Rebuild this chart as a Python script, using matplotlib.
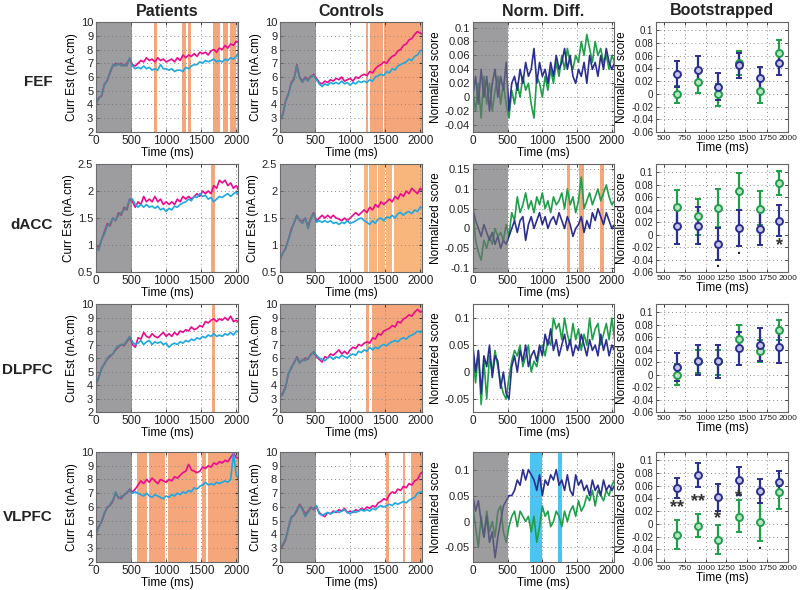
import numpy as np
import matplotlib
matplotlib.use('Agg')
import matplotlib.pyplot as plt
from matplotlib.ticker import FuncFormatter

plt.rcParams['font.family'] = ['Liberation Sans', 'DejaVu Sans']

# ---------------- data ----------------
TIME_MS = list(range(0, 2041, 40))
REGIONS = ['FEF', 'dACC', 'DLPFC', 'VLPFC']
COLUMN_TITLES = ['Patients', 'Controls', 'Norm. Diff.', 'Bootstrapped']

# Patients / Controls current estimates (magenta = A, cyan = B)
P_FEF_A = [4.1,4.5,4.6,5.5,5.7,6.3,6.8,7.0,6.9,7.0,6.8,7.0,7.3,6.9,6.8,7.0,7.2,7.1,7.4,7.2,7.3,7.1,7.4,7.2,7.3,7.1,7.2,7.3,7.1,7.4,7.2,7.6,7.4,7.6,7.5,7.7,7.5,7.8,7.7,7.8,7.6,7.9,8.0,7.8,8.1,8.0,8.3,8.1,8.4,8.3,8.6,8.5]
P_FEF_B = [4.0,4.4,4.7,5.4,5.8,6.4,6.9,6.8,7.0,6.8,6.9,6.8,7.4,6.8,6.6,6.7,6.6,6.8,6.6,6.7,6.5,6.6,6.5,6.9,6.6,6.6,6.5,6.6,6.4,6.5,6.5,6.4,6.7,6.6,6.8,6.9,6.9,7.1,7.0,7.2,7.1,7.2,7.3,7.1,7.2,7.1,7.3,7.2,7.4,7.3,7.5,7.8]
C_FEF_A = [2.9,3.3,4.3,4.8,5.6,5.9,6.9,6.0,5.7,6.0,5.8,6.0,6.2,5.9,5.6,5.5,5.7,5.6,5.8,5.7,5.9,5.8,6.0,5.7,5.8,5.9,5.7,6.0,5.9,6.1,6.2,6.1,6.4,6.3,6.6,6.8,6.9,7.1,7.0,7.3,7.5,7.6,7.9,8.0,8.3,8.4,8.7,8.8,9.1,9.3,9.2,9.1]
C_FEF_B = [2.9,3.2,4.2,4.7,5.5,5.8,6.8,5.9,5.6,5.9,5.7,6.1,6.1,5.8,5.5,5.3,5.5,5.4,5.6,5.5,5.6,5.5,5.7,5.5,5.6,5.4,5.6,5.5,5.7,5.6,5.7,5.6,5.8,5.7,6.0,6.1,6.2,6.1,6.4,6.3,6.6,6.5,6.8,6.9,7.0,7.1,7.3,7.2,7.5,7.6,7.9,8.0]

P_DACC_A = [1.0,0.95,1.1,1.25,1.4,1.35,1.5,1.45,1.6,1.55,1.7,1.65,1.85,1.8,1.7,1.8,1.75,1.9,1.8,1.85,1.8,1.9,1.8,1.85,1.75,1.8,1.75,1.8,1.75,1.85,1.8,1.9,1.85,1.9,1.85,1.9,1.95,1.9,2.0,1.95,2.0,1.95,2.1,2.05,2.2,2.15,2.2,2.1,2.15,2.05,2.1,2.0]
P_DACC_B = [0.95,0.9,1.1,1.2,1.35,1.4,1.5,1.45,1.55,1.6,1.65,1.7,1.85,1.85,1.75,1.7,1.75,1.7,1.75,1.7,1.72,1.68,1.72,1.65,1.68,1.62,1.68,1.65,1.72,1.7,1.75,1.78,1.8,1.85,1.82,1.9,1.88,1.95,1.9,1.92,1.85,1.88,1.8,1.85,1.9,1.88,1.92,1.95,1.9,1.95,1.98,1.92]
C_DACC_A = [0.75,0.85,0.95,1.1,1.3,1.4,1.55,1.45,1.45,1.5,1.35,1.5,1.6,1.45,1.5,1.55,1.5,1.55,1.5,1.55,1.5,1.48,1.45,1.5,1.45,1.5,1.55,1.6,1.55,1.6,1.65,1.6,1.7,1.65,1.75,1.7,1.8,1.75,1.8,1.85,1.8,1.9,1.85,1.95,1.9,2.0,1.95,2.05,2.0,1.95,2.05,2.0]
C_DACC_B = [0.72,0.85,0.92,1.1,1.25,1.42,1.55,1.45,1.4,1.5,1.3,1.48,1.58,1.42,1.45,1.42,1.45,1.42,1.45,1.4,1.42,1.38,1.42,1.4,1.45,1.4,1.42,1.45,1.48,1.5,1.45,1.42,1.38,1.45,1.4,1.48,1.5,1.45,1.52,1.5,1.55,1.5,1.58,1.6,1.55,1.6,1.62,1.58,1.65,1.62,1.7,1.68]

P_DLPFC_A = [4.1,4.6,5.2,5.6,5.9,6.1,6.3,6.6,6.8,7.0,6.9,7.2,7.5,7.0,6.8,7.5,7.4,7.9,7.6,7.5,7.8,7.6,7.5,7.7,7.9,7.6,7.8,7.6,7.9,7.7,8.0,7.9,8.1,8.0,8.3,8.1,8.2,8.4,8.3,8.7,8.6,8.8,8.9,8.7,8.9,8.8,9.0,8.8,9.1,8.7,8.8,8.6]
P_DLPFC_B = [4.0,4.5,5.3,5.5,6.0,6.2,6.3,6.7,6.9,7.0,7.0,7.3,7.6,7.2,7.0,7.1,7.3,7.0,7.2,7.3,7.0,7.2,7.1,7.2,7.0,7.1,6.8,7.0,7.1,7.0,7.2,7.1,7.3,7.2,7.4,7.3,7.5,7.4,7.6,7.5,7.7,7.6,7.8,7.6,7.7,7.6,7.8,7.7,7.9,7.7,8.0,7.9]
C_DLPFC_A = [3.2,3.4,3.9,4.8,5.3,5.6,6.1,5.7,5.8,6.0,5.9,6.3,6.4,6.1,5.9,5.7,6.1,6.0,6.3,6.2,6.4,6.6,6.3,6.5,6.3,6.6,6.8,6.7,7.0,6.9,7.1,7.2,7.1,7.5,7.4,7.8,7.7,8.0,8.1,8.2,8.4,8.3,8.7,8.6,8.9,9.0,9.2,9.1,9.4,9.6,9.4,9.5]
C_DLPFC_B = [3.1,3.3,3.8,4.9,5.2,5.7,6.0,5.6,5.9,5.8,6.0,6.2,6.5,6.2,6.0,5.9,5.8,6.0,6.1,5.9,6.1,6.0,6.2,6.1,6.0,6.2,6.3,6.2,6.5,6.4,6.6,6.5,6.8,6.6,6.8,6.7,6.9,7.0,6.9,7.1,7.2,7.3,7.2,7.4,7.5,7.4,7.6,7.7,7.8,8.0,7.9,8.0]

P_VLPFC_A = [4.2,4.6,4.9,5.5,6.0,6.1,6.4,7.0,6.7,6.6,6.9,7.0,7.3,7.1,7.3,7.6,7.9,7.7,8.0,7.8,8.1,7.9,7.7,8.0,7.9,7.8,8.0,7.9,8.2,8.1,8.3,8.5,8.6,9.1,8.7,8.6,8.5,8.6,8.9,8.8,9.0,8.9,9.2,9.1,9.3,9.2,9.4,9.3,9.6,9.9,9.6,9.5]
P_VLPFC_B = [4.0,4.5,5.0,5.6,5.9,6.2,6.5,7.1,6.6,6.8,6.8,7.1,7.2,7.0,7.1,7.0,6.9,6.8,7.0,6.8,6.7,6.9,6.8,6.7,6.6,6.8,6.7,6.9,6.8,7.0,6.9,7.1,7.0,7.2,7.1,7.4,7.3,7.5,7.6,7.8,7.6,7.7,7.6,7.8,7.7,7.8,7.9,7.8,8.0,9.9,8.3,8.0]
C_VLPFC_A = [2.9,3.2,3.6,4.5,5.2,5.4,5.7,6.2,5.9,5.5,5.7,6.0,5.8,6.0,5.6,5.4,5.3,5.6,5.5,5.7,5.6,5.8,5.7,5.9,5.6,5.7,5.6,5.8,5.7,5.9,5.8,6.0,5.9,6.1,6.0,6.3,6.4,6.6,6.5,6.9,7.1,7.0,7.3,7.2,7.5,7.4,7.7,7.6,7.9,8.0,8.4,8.6]
C_VLPFC_B = [3.0,3.3,3.7,4.4,5.3,5.4,5.8,6.1,5.8,5.3,5.6,5.9,5.9,6.1,5.5,5.4,5.5,5.6,5.5,5.6,5.7,5.6,5.7,5.8,5.6,5.5,5.7,5.6,5.7,5.8,5.7,5.8,5.7,5.9,5.8,6.0,6.1,6.0,6.1,6.2,6.1,6.3,6.2,6.3,6.4,6.3,6.5,6.6,6.7,7.0,7.1,7.1]

# Normalized differences (green / navy)
ND_FEF_G = [0.01,-0.02,0.02,-0.03,0.03,-0.01,0.02,-0.02,0.01,0.03,-0.01,0.02,-0.01,-0.03,0.01,-0.01,0.02,0.0,0.03,0.01,0.02,-0.01,-0.03,0.03,0.02,0.0,0.03,0.01,0.04,0.02,0.05,0.03,0.06,0.04,0.07,0.05,0.04,0.06,0.05,0.08,0.06,0.09,0.07,0.05,0.08,0.06,0.07,0.05,0.06,0.04,0.06,0.05]
ND_FEF_N = [0.0,0.03,-0.01,0.04,0.0,0.03,-0.02,0.02,0.04,0.0,0.03,0.01,0.05,-0.02,0.02,0.03,0.01,0.04,0.02,0.05,0.03,0.04,0.07,0.02,0.05,0.03,0.04,0.02,0.05,0.03,0.06,0.04,0.05,0.07,0.04,0.06,0.03,0.02,0.04,0.03,0.05,0.02,0.06,0.04,0.05,0.03,0.06,0.04,0.07,0.05,0.04,0.05]
ND_DACC_G = [0.05,-0.03,-0.06,-0.08,-0.03,-0.05,-0.02,-0.04,0.0,-0.02,-0.01,-0.03,0.01,-0.02,0.04,0.02,0.08,0.04,0.06,0.09,0.05,0.07,0.04,0.08,0.06,0.09,0.05,0.07,0.04,0.08,0.06,0.07,0.09,0.05,0.1,0.06,0.08,0.04,0.07,0.13,0.05,0.07,0.09,0.06,0.08,0.1,0.07,0.09,0.11,0.08,0.06,0.07]
ND_DACC_N = [0.05,0.02,0.0,-0.02,0.01,-0.01,-0.03,-0.01,-0.04,-0.02,-0.05,-0.03,-0.04,-0.02,0.0,0.02,-0.01,0.02,0.03,-0.03,0.01,0.03,0.0,0.02,0.04,0.01,0.03,0.0,0.02,0.03,0.01,0.04,0.02,0.0,0.03,0.01,-0.02,0.0,0.01,0.03,-0.01,0.02,0.0,0.04,0.02,0.05,0.03,0.01,0.04,0.02,0.0,0.01]
ND_DLPFC_G = [0.03,-0.02,0.04,-0.06,0.02,-0.05,0.03,0.0,0.04,0.01,-0.02,-0.04,-0.05,-0.01,0.02,0.04,0.03,0.05,0.01,0.03,0.05,0.0,0.02,0.01,0.04,0.05,0.03,0.06,0.05,0.1,0.08,0.09,0.06,0.1,0.07,0.05,0.09,0.06,0.08,0.04,0.07,0.05,0.1,0.06,0.08,0.09,0.05,0.07,0.09,0.06,0.1,0.06]
ND_DLPFC_N = [0.05,0.0,0.04,-0.04,0.03,0.01,0.05,-0.01,0.03,0.02,-0.03,0.0,-0.04,-0.05,0.01,0.03,0.0,0.04,0.02,0.05,0.01,0.03,0.04,0.02,0.05,0.03,0.07,0.05,0.08,0.04,0.06,0.03,0.05,0.07,0.04,0.06,0.03,0.05,0.04,0.07,0.05,0.03,0.06,0.04,0.05,0.03,0.07,0.04,0.06,0.03,0.05,0.04]
ND_VLPFC_G = [0.03,-0.01,-0.05,0.01,-0.03,0.02,-0.02,0.0,-0.03,0.02,0.03,-0.02,-0.04,-0.01,0.01,0.02,-0.01,0.02,0.01,0.0,0.01,-0.02,0.01,-0.04,-0.01,0.03,0.01,0.02,-0.01,0.0,0.02,0.01,-0.01,0.02,0.0,0.02,0.03,0.01,0.04,0.02,0.03,0.05,0.04,0.06,0.03,0.06,0.05,0.04,0.06,0.05,0.07,0.08]
ND_VLPFC_N = [0.05,0.02,0.04,0.0,-0.03,0.01,-0.04,-0.02,-0.07,-0.03,0.0,0.03,0.04,0.05,0.05,0.06,0.08,0.07,0.1,0.08,0.1,0.09,0.08,0.06,0.09,0.05,0.08,0.07,0.09,0.08,0.1,0.07,0.08,0.06,0.09,0.06,0.05,0.09,0.07,0.08,0.06,0.07,0.05,0.08,0.06,0.07,0.05,0.08,0.06,0.07,0.06,0.07]

# significance intervals (ms)
SIG_P_FEF = [(830, 875), (1225, 1280), (1305, 1350), (1665, 1770), (1810, 1880), (1910, 2000), (2010, 2030)]
SIG_C_FEF = [(1225, 1262), (1285, 1462), (1485, 2030)]
SIG_P_DACC = [(1645, 1690)]
SIG_C_DACC = [(1200, 1255), (1270, 1380), (1395, 1500), (1510, 1595), (1625, 2030)]
SIG_P_DLPFC = [(1660, 1700)]
SIG_C_DLPFC = [(1224, 1267), (1310, 2030)]
SIG_P_VLPFC = [(580, 730), (752, 985), (1033, 1438), (1510, 1571), (1595, 2030)]
SIG_C_VLPFC = [(1514, 1557), (1748, 1786), (1871, 2030)]
SIG_ND_DACC = [(1352, 1400), (1524, 1595), (1833, 1886)]
SIG_ND_VLPFC = [(819, 995), (1229, 1290)]

# Bootstrapped
BOOT_T = [660, 905, 1150, 1400, 1655, 1895]
B_FEF_N = [0.031, 0.038, 0.011, 0.045, 0.025, 0.048]
B_FEF_N_LO = [0.010, 0.018, -0.010, 0.025, 0.006, 0.030]
B_FEF_N_HI = [0.052, 0.059, 0.033, 0.065, 0.043, 0.066]
B_FEF_G = [0.0, 0.019, -0.001, 0.049, 0.005, 0.064]
B_FEF_G_LO = [-0.015, 0.002, -0.019, 0.030, -0.015, 0.046]
B_FEF_G_HI = [0.013, 0.037, 0.016, 0.068, 0.023, 0.085]
B_DACC_N = [0.013, 0.014, -0.015, 0.011, 0.009, 0.022]
B_DACC_N_LO = [-0.015, -0.015, -0.040, -0.018, -0.017, -0.002]
B_DACC_N_HI = [0.040, 0.044, 0.010, 0.040, 0.037, 0.047]
B_DACC_G = [0.044, 0.029, 0.042, 0.070, 0.041, 0.082]
B_DACC_G_LO = [0.016, 0.0, 0.012, 0.040, 0.015, 0.063]
B_DACC_G_HI = [0.072, 0.057, 0.073, 0.098, 0.069, 0.102]
B_DLPFC_N = [0.012, 0.022, 0.021, 0.043, 0.047, 0.044]
B_DLPFC_N_LO = [-0.010, 0.0, -0.005, 0.016, 0.022, 0.018]
B_DLPFC_N_HI = [0.035, 0.047, 0.048, 0.068, 0.075, 0.072]
B_DLPFC_G = [0.0, 0.022, 0.021, 0.057, 0.037, 0.071]
B_DLPFC_G_LO = [-0.016, 0.003, 0.0, 0.040, 0.020, 0.055]
B_DLPFC_G_HI = [0.017, 0.040, 0.040, 0.080, 0.055, 0.087]
B_VLPFC_N = [0.057, 0.077, 0.042, 0.069, 0.051, 0.066]
B_VLPFC_N_LO = [0.040, 0.058, 0.020, 0.045, 0.033, 0.050]
B_VLPFC_N_HI = [0.072, 0.096, 0.062, 0.090, 0.070, 0.083]
B_VLPFC_G = [-0.017, -0.004, -0.026, 0.011, 0.003, 0.050]
B_VLPFC_G_LO = [-0.039, -0.021, -0.047, -0.013, -0.027, 0.023]
B_VLPFC_G_HI = [0.006, 0.015, -0.002, 0.037, 0.033, 0.060]

SIG_MARKS_DACC = [(1150, -0.055, '.'), (1400, -0.034, '.'), (1895, -0.018, '*')]
SIG_MARKS_VLPFC = [(660, 0.025, '**'), (905, 0.035, '**'), (1150, 0.008, '*'), (1400, 0.041, '*'), (1655, -0.042, '.')]

# ---------------- styles ----------------
MAG = '#EC0B8D'
CYA = '#1EA8E2'
NAVY = '#2B2F8F'
GRN = '#1F9F49'
ORANGE = '#F5A67B'
ORANGE2 = '#F8B57C'
BAND_BLUE = '#4CC4F2'
FRAME = '#666666'

ROW_BOTTOM = [0.7763, 0.539, 0.3017, 0.0475]
ROW_H = [0.1864, 0.183, 0.183, 0.1864]
COL_X = [0.120, 0.350, 0.591, 0.820]
COL_W = [0.1775, 0.1775, 0.176, 0.165]

fig = plt.figure(figsize=(8, 5.9), dpi=100)
fmt = FuncFormatter(lambda v, p: '%g' % (round(v, 4) + 0.0))


def style_axes(ax, xfs=8.5, yfs=8):
    for s in ax.spines.values():
        s.set_color(FRAME)
        s.set_linewidth(0.8)
    ax.tick_params(direction='in', length=2.5, width=0.6, colors='#222222', pad=2)
    ax.tick_params(axis='x', labelsize=xfs)
    ax.tick_params(axis='y', labelsize=yfs)
    ax.tick_params(axis='both', which='both', top=True, right=True, labeltop=False, labelright=False)
    ax.grid(True, ls=(0, (1, 3)), color='#8a8a8a', lw=0.7)
    ax.set_axisbelow(True)


def curr_panel(ax, a, b, sig, ylim, yticks, orange=ORANGE):
    style_axes(ax)
    for s0, s1 in sig:
        ax.axvspan(s0, s1, color=orange, lw=0, zorder=0.5)
    ax.plot(TIME_MS, a, color=MAG, lw=1.2, zorder=2)
    ax.plot(TIME_MS, b, color=CYA, lw=1.2, zorder=2.1)
    ax.axvspan(0, 512, color='#6f6f72', alpha=0.68, lw=0, zorder=3)
    ax.set_xlim(0, 2025)
    ax.set_ylim(*ylim)
    ax.set_xticks([0, 500, 1000, 1500, 2000])
    ax.set_yticks(yticks)
    ax.yaxis.set_major_formatter(fmt)
    ax.set_xlabel('Time (ms)', fontsize=8.5, labelpad=0)
    ax.set_ylabel('Curr Est (nA.cm)', fontsize=8.5, labelpad=2)


def nd_panel(ax, g, n, ylim, yticks, sig=(), sigcolor=ORANGE, gray=True):
    style_axes(ax)
    for s0, s1 in sig:
        ax.axvspan(s0, s1, color=sigcolor, lw=0, zorder=0.5)
    ax.plot(TIME_MS, g, color=GRN, lw=1.2, zorder=2)
    ax.plot(TIME_MS, n, color=NAVY, lw=1.2, zorder=2.1)
    if gray:
        ax.axvspan(0, 512, color='#6f6f72', alpha=0.68, lw=0, zorder=3)
    ax.set_xlim(0, 2025)
    ax.set_ylim(*ylim)
    ax.set_xticks([0, 500, 1000, 1500, 2000])
    ax.set_yticks(yticks)
    ax.yaxis.set_major_formatter(fmt)
    ax.set_xlabel('Time (ms)', fontsize=8.5, labelpad=0)
    ax.set_ylabel('Normalized score', fontsize=8.5, labelpad=2)


def boot_panel(ax, n, nlo, nhi, g, glo, ghi, marks=()):
    style_axes(ax, xfs=6, yfs=7)
    for m, lo, hi, c, fc in [(g, glo, ghi, GRN, '#b9e3c6'), (n, nlo, nhi, NAVY, '#c5c6e6')]:
        m = np.array(m); lo = np.array(lo); hi = np.array(hi)
        ax.errorbar(BOOT_T, m, yerr=[m - lo, hi - m], fmt='o', color=c, ecolor=c,
                    elinewidth=1.6, capsize=2.2, capthick=1.2, ms=5, mfc=fc, mec=c, mew=1.4, zorder=3)
    for x, y, s in marks:
        if s == '.':
            ax.text(x, y - 0.002, s, ha='center', va='bottom', fontsize=10,
                    color='#222222', fontweight='bold', zorder=4)
        else:
            ax.text(x, y, s, ha='center', va='center', fontsize=13,
                    color='#333333', fontweight='bold', zorder=4)
    ax.set_xlim(400, 2000)
    ax.set_ylim(-0.06, 0.113)
    ax.set_xticks([500, 750, 1000, 1250, 1500, 1750, 2000])
    ax.set_yticks(np.arange(-0.06, 0.101, 0.02))
    ax.yaxis.set_major_formatter(fmt)
    ax.set_xlabel('Time (ms)', fontsize=8.5, labelpad=0)
    ax.set_ylabel('Normalized score', fontsize=8.5, labelpad=2)


CURR = [(P_FEF_A, P_FEF_B, C_FEF_A, C_FEF_B, SIG_P_FEF, SIG_C_FEF),
        (P_DACC_A, P_DACC_B, C_DACC_A, C_DACC_B, SIG_P_DACC, SIG_C_DACC),
        (P_DLPFC_A, P_DLPFC_B, C_DLPFC_A, C_DLPFC_B, SIG_P_DLPFC, SIG_C_DLPFC),
        (P_VLPFC_A, P_VLPFC_B, C_VLPFC_A, C_VLPFC_B, SIG_P_VLPFC, SIG_C_VLPFC)]
CURR_YLIM = [((2, 10), range(2, 11)), ((0.5, 2.5), [0.5, 1, 1.5, 2, 2.5]),
             ((2, 10), range(2, 11)), ((2, 10), range(2, 11))]
ND = [(ND_FEF_G, ND_FEF_N, (-0.05, 0.108), [-0.04, -0.02, 0, 0.02, 0.04, 0.06, 0.08, 0.1], (), ORANGE, True),
      (ND_DACC_G, ND_DACC_N, (-0.11, 0.163), [-0.1, -0.05, 0, 0.05, 0.1, 0.15], SIG_ND_DACC, ORANGE, True),
      (ND_DLPFC_G, ND_DLPFC_N, (-0.074, 0.126), [-0.05, 0, 0.05, 0.1], (), ORANGE, False),
      (ND_VLPFC_G, ND_VLPFC_N, (-0.078, 0.134), [-0.05, 0, 0.05, 0.1], SIG_ND_VLPFC, BAND_BLUE, True)]
BOOT = [(B_FEF_N, B_FEF_N_LO, B_FEF_N_HI, B_FEF_G, B_FEF_G_LO, B_FEF_G_HI, ()),
        (B_DACC_N, B_DACC_N_LO, B_DACC_N_HI, B_DACC_G, B_DACC_G_LO, B_DACC_G_HI, SIG_MARKS_DACC),
        (B_DLPFC_N, B_DLPFC_N_LO, B_DLPFC_N_HI, B_DLPFC_G, B_DLPFC_G_LO, B_DLPFC_G_HI, ()),
        (B_VLPFC_N, B_VLPFC_N_LO, B_VLPFC_N_HI, B_VLPFC_G, B_VLPFC_G_LO, B_VLPFC_G_HI, SIG_MARKS_VLPFC)]

ROW_LABEL_Y = [82, 225, 370, 517]

for r in range(4):
    axes = [fig.add_axes([COL_X[c], ROW_BOTTOM[r], COL_W[c], ROW_H[r]]) for c in range(4)]
    pa, pb, ca, cb, sp, sc = CURR[r]
    ylim, yt = CURR_YLIM[r]
    curr_panel(axes[0], pa, pb, sp, ylim, list(yt))
    curr_panel(axes[1], ca, cb, sc, ylim, list(yt), orange=ORANGE2 if r == 1 else ORANGE)
    g, n, ndlim, ndt, ndsig, ndcol, gray = ND[r]
    nd_panel(axes[2], g, n, ndlim, ndt, ndsig, ndcol, gray)
    boot_panel(axes[3], *BOOT[r])
    fig.text(0.066, 1 - ROW_LABEL_Y[r] / 590, REGIONS[r], ha='right', va='center',
             fontsize=11, fontweight='bold', color='#222222')

for c in range(4):
    fig.text(COL_X[c] + COL_W[c] / 2, 1 - 11 / 590, COLUMN_TITLES[c], ha='center', va='center',
             fontsize=11.5, fontweight='bold', color='#222222')

fig.savefig('out.png', dpi=100)
